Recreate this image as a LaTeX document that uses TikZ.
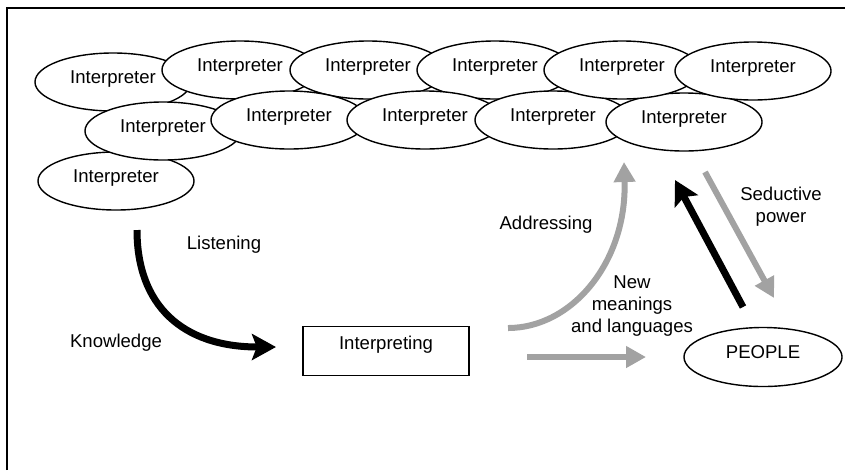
\documentclass[tikz,border=0pt]{standalone}
\usepackage{fontspec}
\setmainfont{Liberation Sans}
\usetikzlibrary{arrows.meta, shapes.geometric}
\definecolor{arrgray}{RGB}{162,162,162}

\begin{document}
\begin{tikzpicture}[x=0.025cm, y=-0.025cm,
    font=\fontsize{13.2}{15.6}\selectfont,
    interpreter/.style={draw, ellipse, fill=white, line width=1pt,
        minimum width=3.9cm, minimum height=1.45cm, inner sep=0pt,
        text height=0.34cm, text depth=0.25cm},
    blackarrow/.style={line width=0.175cm,
        -{Stealth[length=0.6cm, width=0.65cm, inset=0.12cm]}},
    grayarrow/.style={draw=arrgray, line width=0.15cm,
        -{Triangle[length=0.5cm, width=0.52cm]}}]
    \useasboundingbox (0,0) rectangle (845,470);

    % Frame (only top and left edges show)
    \draw[line width=1.4pt] (7,470) -- (7,8) -- (845,8);

    % Crowd of interpreters
    \node[interpreter] (c1) at (116,181) {Interpreter};
    \node[interpreter] (a1) at (113,82) {Interpreter};
    \node[interpreter] (a2) at (240,70) {Interpreter};
    \node[interpreter] (a3) at (368,70) {Interpreter};
    \node[interpreter] (a4) at (495,70) {Interpreter};
    \node[interpreter] (b1) at (163,131) {Interpreter};
    \node[interpreter] (b2) at (289,120) {Interpreter};
    \node[interpreter] (b3) at (425,120) {Interpreter};
    \node[interpreter] (b4) at (553,120) {Interpreter};
    \node[interpreter] (b5) at (684,122) {Interpreter};
    \node[interpreter] (a5) at (622,70) {Interpreter};
    \node[interpreter] (a6) at (753,71) {Interpreter};

    % Interpreting box and people
    \node[draw, rectangle, line width=1pt, minimum width=4.15cm,
        minimum height=1.225cm, text height=0.33cm, text depth=0.4cm]
        (interp) at (386,351) {Interpreting};
    \node[draw, ellipse, line width=1pt, minimum width=3.95cm,
        minimum height=1.475cm, text height=0.335cm, text depth=0.25cm]
        (people) at (763,357) {PEOPLE};

    % Labels
    \node (listen) at (224,245) {Listening};
    \node (knowl) at (116,343) {Knowledge};
    \node (address) at (546,225) {Addressing};
    \node[align=center] (newmean) at (632,306) {New\\meanings\\and languages};
    \node[align=center] (seduct) at (781,207) {Seductive\\power};

    % Arrow ends
    \coordinate (lisS) at (137,230);
    \coordinate (lisE) at (276,347);
    \coordinate (addS) at (508,328);
    \coordinate (addE) at (624,162);
    \coordinate (newS) at (527,357);
    \coordinate (newE) at (646,357);
    \coordinate (upS) at (743,307);
    \coordinate (upE) at (675,180);
    \coordinate (sedS) at (705,172);
    \coordinate (sedE) at (774,298);

    % Arrows
    \draw[blackarrow] (lisS) .. controls (137,305) and (182,347) .. (lisE);
    \draw[grayarrow] (addS) .. controls (572,328) and (627,262) .. (addE);
    \draw[grayarrow] (newS) -- (newE);
    \draw[blackarrow] (upS) -- (upE);
    \draw[grayarrow] (sedS) -- (sedE);

\end{tikzpicture}
\end{document}
